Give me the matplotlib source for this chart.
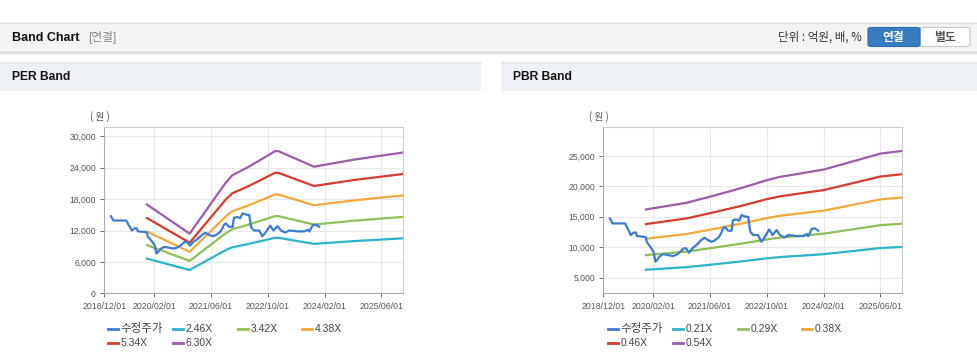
import matplotlib
matplotlib.use("Agg")
import matplotlib.pyplot as plt
from matplotlib.patches import Rectangle, FancyBboxPatch
from matplotlib.lines import Line2D
from matplotlib import font_manager
import pandas as pd

# ---------------- data ----------------
price_dates = ["2019-01-26", "2019-02-18", "2019-06-06", "2019-06-17", "2019-07-25", "2019-08-15",
               "2019-09-06", "2019-09-15", "2019-11-15", "2019-12-01", "2019-12-07", "2020-01-07",
               "2020-02-04", "2020-02-21", "2020-03-10", "2020-03-25", "2020-04-28", "2020-06-04",
               "2020-07-19", "2020-08-15", "2020-09-12", "2020-10-19", "2020-11-10", "2020-12-04",
               "2021-01-01", "2021-02-06", "2021-03-19", "2021-04-15", "2021-05-15", "2021-06-13",
               "2021-07-10", "2021-08-19", "2021-09-07", "2021-09-22", "2021-10-07", "2021-11-04",
               "2021-12-04", "2021-12-16", "2022-01-16", "2022-02-07", "2022-02-27", "2022-04-04",
               "2022-04-25", "2022-05-13", "2022-06-07", "2022-07-19", "2022-08-16", "2022-09-07",
               "2022-10-22", "2022-11-19", "2022-12-25", "2023-01-22", "2023-02-28", "2023-04-04",
               "2023-06-16", "2023-08-10", "2023-09-10", "2023-09-22", "2023-10-22", "2023-11-19",
               "2023-12-16"]
price_values = [14730, 13910, 13910, 13470, 12000, 12380,
                12430, 11830, 11720, 11610, 10900, 10080,
                9260, 7620, 8010, 8440, 8880, 8720,
                8550, 8720, 9100, 9810, 9810, 9100,
                9810, 10360, 11180, 11560, 11180, 10900,
                11070, 11720, 12380, 13090, 13360, 12710,
                12710, 14460, 14560, 14350, 15270, 15000,
                15000, 12540, 12000, 12000, 10900, 11450,
                12930, 12000, 12820, 12000, 11610, 12000,
                11830, 11830, 12160, 11830, 13030, 13090,
                12710]

eps_dates = ["2019-12-01", "2020-12-01", "2021-10-01", "2021-12-01", "2022-04-01", "2022-08-01",
             "2022-12-01", "2023-01-01", "2023-11-01", "2024-10-01", "2025-12-01"]
eps_values = [2694, 1810, 3330, 3580, 3800, 4050, 4310, 4310, 3840, 4050, 4270]
per_multiples = [2.46, 3.42, 4.38, 5.34, 6.30]
per_labels = ["2.46X", "3.42X", "4.38X", "5.34X", "6.30X"]

bps_dates = ["2019-12-01", "2020-05-20", "2020-11-10", "2021-05-28", "2022-02-12", "2022-10-01",
             "2023-01-20", "2024-02-01", "2024-11-12", "2025-06-01", "2025-12-01"]
bps_values = [30000, 31000, 32000, 33850, 36380, 38900, 39900, 42150, 44980, 47000, 47800]
pbr_multiples = [0.21, 0.29, 0.38, 0.46, 0.54]
pbr_labels = ["0.21X", "0.29X", "0.38X", "0.46X", "0.54X"]

price_label = "수정주가"
x_tick_dates = ["2018-12-01", "2020-02-01", "2021-06-01", "2022-10-01", "2024-02-01", "2025-06-01"]
x_tick_labels = ["2018/12/01", "2020/02/01", "2021/06/01", "2022/10/01", "2024/02/01", "2025/06/01"]
per_yticks = [0, 6000, 12000, 18000, 24000, 30000]
pbr_yticks = [5000, 10000, 15000, 20000, 25000]

price_color = "#3b7bd0"
band_colors = ["#2bb4c8", "#8fbf57", "#f4a83a", "#d63b2e", "#9c5bab"]

# ---------------- fonts ----------------
names = {f.name for f in font_manager.fontManager.ttflist}
LAT = "Liberation Sans" if "Liberation Sans" in names else "DejaVu Sans"
NARROW = "Liberation Sans Narrow" if "Liberation Sans Narrow" in names else LAT
KR = "Noto Sans CJK KR"
plt.rcParams["font.family"] = [LAT, KR, "DejaVu Sans"]

W, H = 978, 361
fig = plt.figure(figsize=(W / 100, H / 100), dpi=100)
fig.patch.set_facecolor("white")


def X(x):
    return x / W


def Y(y):
    return 1 - y / H


def rect(x0, y0, x1, y1, fc, ec="none", lw=0, z=0):
    fig.patches.append(Rectangle((X(x0), Y(y1)), X(x1) - X(x0), Y(y0) - Y(y1),
                                 transform=fig.transFigure, facecolor=fc, edgecolor=ec,
                                 linewidth=lw, zorder=z))


def hline(x0, x1, y, color, lw=1.0):
    fig.add_artist(Line2D([X(x0), X(x1)], [Y(y), Y(y)], transform=fig.transFigure,
                          color=color, lw=lw))


# header bar
rect(0, 22, 978, 52, "#f4f4f4")
hline(0, 978, 22.5, "#dddddd")
hline(0, 978, 52, "#cfcfcf")
hline(0, 978, 53.5, "#ececec", lw=1.5)
fig.text(X(12), Y(38), "Band Chart", fontsize=9, fontweight="bold", color="#111111",
         family=[NARROW, KR], va="center", ha="left")
fig.text(X(88), Y(38), "[연결]", fontsize=8.5, color="#8a8a8a", family=[NARROW, KR, LAT],
         va="center", ha="left")
fig.text(X(862), Y(37.5), "단위 : 억원, 배, %", fontsize=8.3, color="#333333",
         family=[KR, LAT], va="center", ha="right")
# buttons
fig.patches.append(FancyBboxPatch((X(920), Y(46.5)), X(970) - X(920), Y(27.5) - Y(46.5),
                                  boxstyle="round,pad=0,rounding_size=0.004",
                                  transform=fig.transFigure, facecolor="white",
                                  edgecolor="#c8c8c8", linewidth=0.8))
fig.patches.append(FancyBboxPatch((X(868), Y(46.5)), X(920) - X(868), Y(27.5) - Y(46.5),
                                  boxstyle="round,pad=0,rounding_size=0.004",
                                  transform=fig.transFigure, facecolor="#3a7cc2",
                                  edgecolor="#2f6aa8", linewidth=0.8))
fig.text(X(893), Y(37), "연결", fontsize=8.5, fontweight="bold", color="white",
         family=[KR], va="center", ha="center")
fig.text(X(945), Y(37), "별도", fontsize=8.5, fontweight="bold", color="#555555",
         family=[KR], va="center", ha="center")

# section bars
for (x0, x1, title) in [(0, 481, "PER Band"), (501, 978, "PBR Band")]:
    rect(x0, 62, x1, 91, "#eef1f5")
    rect(x0, 62, x1, 64, "#e3e6ea")
    fig.text(X(x0 + 12), Y(77.5), title, fontsize=8.7, fontweight="bold", color="#111111",
             family=[NARROW, KR], va="center", ha="left")


def make_axes(left, ylim, yticks, base_dates, base_values, multiples, labels, leg_x0):
    ax = fig.add_axes([X(left), Y(293.3), 298.5 / W, (293.3 - 127) / H])
    ax.set_facecolor("white")
    bd = pd.to_datetime(base_dates)
    for mult, col in zip(multiples, band_colors):
        ax.plot(bd, [v * mult for v in base_values], color=col, lw=1.6, solid_joinstyle="round")
    ax.plot(pd.to_datetime(price_dates), price_values, color=price_color, lw=1.6,
            solid_joinstyle="round")
    ax.set_xlim(pd.Timestamp("2018-12-01"), pd.Timestamp("2025-12-01"))
    ax.set_ylim(*ylim)
    ax.set_xticks(pd.to_datetime(x_tick_dates))
    ax.set_xticklabels(x_tick_labels)
    ax.set_yticks(yticks)
    ax.set_yticklabels([f"{v:,}" for v in yticks])
    ax.grid(True, color="#e8e8e8", lw=0.8)
    ax.set_axisbelow(True)
    for s in ["top", "right"]:
        ax.spines[s].set_color("#cccccc")
        ax.spines[s].set_linewidth(0.8)
    for s in ["left", "bottom"]:
        ax.spines[s].set_color("#aaaaaa")
        ax.spines[s].set_linewidth(0.8)
    ax.tick_params(axis="x", labelsize=6.3, colors="#555555", length=3, pad=3, width=0.6)
    ax.tick_params(axis="y", labelsize=6.2, colors="#555555", length=3, pad=3, width=0.6)
    for t in ax.get_xticklabels() + ax.get_yticklabels():
        t.set_color("#555555")
    fig.text(X(left - 4), Y(117), "( 원 )", fontsize=7, color="#555555", family=[KR],
             va="center", ha="center")
    # legend
    items = [(price_label, price_color)] + list(zip(labels, band_colors))
    cols = [0, 65, 130, 194]
    for i, (lab, col) in enumerate(items):
        r, c = divmod(i, 4)
        yy = 329 + r * 13.5
        xx = leg_x0 + cols[c]
        fig.add_artist(Line2D([X(xx), X(xx + 10)], [Y(yy), Y(yy)], transform=fig.transFigure,
                              color=col, lw=2.0))
        fs = 8.3 if lab == price_label else 7.5
        fig.text(X(xx + 12.5), Y(yy), lab, fontsize=fs, color="#444444",
                 family=[LAT, KR], va="center", ha="left")
    return ax


make_axes(104.3, (0, 31780), per_yticks, eps_dates, eps_values, per_multiples, per_labels, 108)
make_axes(603.3, (2430, 29750), pbr_yticks, bps_dates, bps_values, pbr_multiples, pbr_labels, 608)

fig.savefig("out.png", dpi=100)
